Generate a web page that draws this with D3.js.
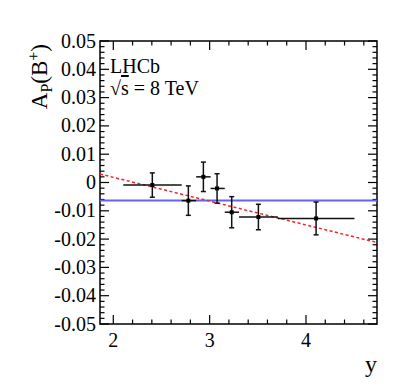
<!DOCTYPE html>
<html><head><meta charset="utf-8">
<script src="https://cdn.jsdelivr.net/npm/d3@7"></script>
<style>body{margin:0;background:#fff}svg{display:block}text{font-family:"Liberation Serif","Times New Roman",serif;fill:#000}</style>
</head><body>
<script>
// data
const yCenters = [2.405, 2.779, 2.935, 3.077, 3.229, 3.506, 4.105];
const yLow     = [2.104, 2.710, 2.860, 3.010, 3.157, 3.305, 3.707];
const yHigh    = [2.710, 2.860, 3.010, 3.157, 3.305, 3.707, 4.503];
const apValues = [-0.0009, -0.0064, 0.0020, -0.0021, -0.0105, -0.0122, -0.0127];
const apErrors = [0.0043, 0.0052, 0.0052, 0.0052, 0.0055, 0.0045, 0.0058];
const constFit = -0.0064;
const linFitX = [1.862, 4.737];
const linFitY = [0.0030, -0.0212];
const xTicks = [2, 3, 4];
const yTicks = [-0.05,-0.04,-0.03,-0.02,-0.01,0,0.01,0.02,0.03,0.04,0.05];
const yTickLabels = ["-0.05","-0.04","-0.03","-0.02","-0.01","0","0.01","0.02","0.03","0.04","0.05"];

const W=399,H=388;
const L=100,R=377,T=41,B=324;
const svg=d3.select("body").append("svg").attr("width",W).attr("height",H);
const x=d3.scaleLinear().domain([1.862,4.737]).range([L,R]);
const y=d3.scaleLinear().domain([-0.05,0.05]).range([B,T]);

// frame
svg.append("rect").attr("x",L).attr("y",T).attr("width",R-L).attr("height",B-T)
  .attr("fill","none").attr("stroke","#000").attr("stroke-width",1.5);

// ticks
const xMinor=d3.range(1.8,4.8001,0.2).filter(v=>v>=1.862&&v<=4.737);
const yMinor=d3.range(-0.05,0.05001,0.002);
const tk=svg.append("g").attr("stroke","#000").attr("stroke-width",1.2);
xMinor.forEach(v=>{
  const major=xTicks.some(t=>Math.abs(t-v)<1e-6);
  const len=major?9:4.5;
  tk.append("line").attr("x1",x(v)).attr("x2",x(v)).attr("y1",B).attr("y2",B-len);
  tk.append("line").attr("x1",x(v)).attr("x2",x(v)).attr("y1",T).attr("y2",T+len);
});
yMinor.forEach(v=>{
  const major=Math.abs(Math.round(v*100)-v*100)<1e-6;
  const len=major?9:4.5;
  tk.append("line").attr("y1",y(v)).attr("y2",y(v)).attr("x1",L).attr("x2",L+len);
  tk.append("line").attr("y1",y(v)).attr("y2",y(v)).attr("x1",R).attr("x2",R-len);
});

// tick labels
svg.append("g").selectAll("text").data(yTicks).join("text")
  .attr("x",96).attr("y",d=>y(d)+6.5).attr("text-anchor","end")
  .attr("font-size",20).text((d,i)=>yTickLabels[i]);
svg.append("g").selectAll("text").data(xTicks).join("text")
  .attr("x",d=>x(d)).attr("y",347).attr("text-anchor","middle")
  .attr("font-size",20).text(d=>d);

// axis titles
svg.append("text").attr("x",377).attr("y",372).attr("text-anchor","end")
  .attr("font-size",24).text("y");
const yl=svg.append("text").attr("transform","translate(47,44) rotate(-90)")
  .attr("text-anchor","end").attr("font-size",23);
yl.append("tspan").text("A");
yl.append("tspan").attr("font-size",16).attr("dy",5).text("P");
yl.append("tspan").attr("dy",-5).text("(B");
yl.append("tspan").attr("font-size",16).attr("dy",-8).text("+");
yl.append("tspan").attr("dy",8).text(")");

// LHCb labels
svg.append("text").attr("x",110).attr("y",73).attr("font-size",20).text("LHCb");
const rs=svg.append("text").attr("x",110).attr("y",95).attr("font-size",20);
rs.append("tspan").text("\u221A");
rs.append("tspan").style("text-decoration","overline").text("s");
rs.append("tspan").text(" = 8 TeV");

const g=svg.append("g");
// fits
g.append("line").attr("x1",x(1.862)).attr("x2",x(4.737)).attr("y1",y(constFit)).attr("y2",y(constFit))
  .attr("stroke","#6565f5").attr("stroke-width",2);
g.append("line").attr("x1",x(linFitX[0])).attr("x2",x(linFitX[1])).attr("y1",y(linFitY[0])).attr("y2",y(linFitY[1]))
  .attr("stroke","#ff2020").attr("stroke-width",1.5).attr("stroke-dasharray","3,2.5");

// data points
const pts=yCenters.map((c,i)=>({c,lo:yLow[i],hi:yHigh[i],v:apValues[i],e:apErrors[i]}));
const eb=g.append("g").attr("stroke","#111").attr("stroke-width",1.5);
pts.forEach(p=>{
  eb.append("line").attr("x1",x(p.lo)).attr("x2",x(p.hi)).attr("y1",y(p.v)).attr("y2",y(p.v));
  eb.append("line").attr("x1",x(p.c)).attr("x2",x(p.c)).attr("y1",y(p.v-p.e)).attr("y2",y(p.v+p.e));
  [p.v-p.e,p.v+p.e].forEach(w=>eb.append("line").attr("x1",x(p.c)-2.5).attr("x2",x(p.c)+2.5).attr("y1",y(w)).attr("y2",y(w)));
  g.append("rect").attr("x",x(p.c)-2).attr("y",y(p.v)-2).attr("width",4).attr("height",4).attr("fill","#000");
});
</script>
</body></html>
